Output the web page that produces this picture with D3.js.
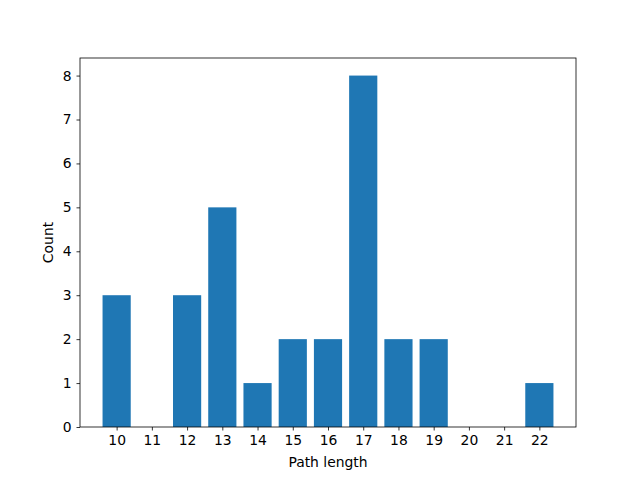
<!DOCTYPE html>
<html><head><meta charset="utf-8">
<script src="https://cdn.jsdelivr.net/npm/d3@7"></script>
<style>body{margin:0;background:#fff}text{font-family:"DejaVu Sans",sans-serif}</style>
</head><body>
<svg id="c" width="640" height="480"></svg>
<script>
const categories = [10,11,12,13,14,15,16,17,18,19,20,21,22];
const counts = [3,0,3,5,1,2,2,8,2,2,0,0,1];
const yTicks = [0,1,2,3,4,5,6,7,8];

const svg = d3.select("#c");
const L=80,R=576,T=58,B=427;
const x = d3.scaleLinear().domain([8.96,23.04]).range([L,R]);
const y = d3.scaleLinear().domain([0,8.4]).range([B,T]);
const bw = x(0.8)-x(0);

svg.append("rect").attr("width",640).attr("height",480).attr("fill","#fff");
svg.append("g").selectAll("rect").data(categories).join("rect")
  .attr("x",(d)=>x(d-0.4)).attr("width",bw)
  .attr("y",(d,i)=>y(counts[i])).attr("height",(d,i)=>B-y(counts[i]))
  .attr("fill","#1f77b4");

const fs="13.9px";
const xa = svg.append("g").attr("transform",`translate(0,${B})`)
  .call(d3.axisBottom(x).tickValues(categories).tickFormat(d3.format("d")).tickSize(3.5).tickPadding(4.9));
const ya = svg.append("g").attr("transform",`translate(${L},0)`)
  .call(d3.axisLeft(y).tickValues(yTicks).tickFormat(d3.format("d")).tickSize(3.5).tickPadding(4.9));
[xa,ya].forEach(a=>{a.select(".domain").remove();a.selectAll("text").style("font-size",fs).attr("fill","#000");a.selectAll("line").attr("stroke","#000").attr("stroke-width",0.8);});
svg.append("rect").attr("x",L).attr("y",T).attr("width",R-L).attr("height",B-T)
  .attr("fill","none").attr("stroke","#000").attr("stroke-width",0.8);
svg.append("text").attr("x",(L+R)/2).attr("y",467).attr("text-anchor","middle").style("font-size",fs).text("Path length");
svg.append("text").attr("transform",`translate(53,${(T+B)/2}) rotate(-90)`).attr("text-anchor","middle").style("font-size",fs).text("Count");
</script>
</body></html>
